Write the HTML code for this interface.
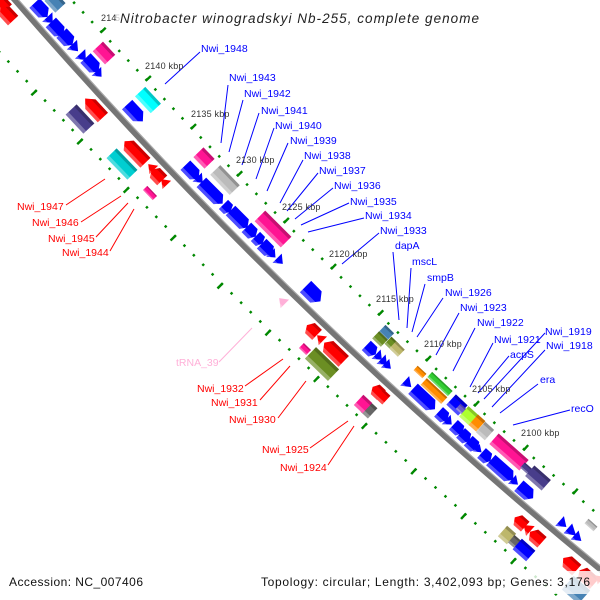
<!DOCTYPE html>
<html><head><meta charset="utf-8"><style>
html,body{margin:0;padding:0;background:#fff}
svg{display:block}
text{font-family:"Liberation Sans",sans-serif}
.b{fill:#00f;font-size:10.5px}
.r{fill:#f00;font-size:10.5px}
.k{fill:#333;font-size:9px;letter-spacing:.2px}
</style></head><body>
<svg width="600" height="600" viewBox="0 0 600 600" xmlns="http://www.w3.org/2000/svg">
<defs>
<g id="x"><rect x="-.5" y="-.5" width="1" height="1" fill="currentColor"/><rect x="-.5" y="-.5" width="1" height=".22" fill="#000" opacity=".22"/><rect x="-.5" y=".25" width="1" height=".25" fill="#fff" opacity=".3"/></g>
<g id="a"><polygon points="-.5,-.5 .3,-.5 .5,0 .3,.5 -.5,.5" fill="currentColor"/><polygon points="-.5,.5 .3,.5 .4,.25 -.5,.25" fill="#fff" opacity=".3"/></g>
<g id="c"><polygon points="-.5,-.5 .2,-.5 .5,0 .2,.5 -.5,.5" fill="currentColor"/><polygon points="-.5,.5 .2,.5 .35,.25 -.5,.25" fill="#fff" opacity=".3"/></g>
<g id="A"><polygon points="-.5,-.5 .3,-.5 .5,0 .3,.5 -.5,.5" fill="currentColor"/><polygon points="-.5,-.5 .3,-.5 .39,-.28 -.5,-.28" fill="#000" opacity=".2"/><polygon points="-.5,.5 .3,.5 .4,.25 -.5,.25" fill="#fff" opacity=".3"/></g>
<g id="C"><polygon points="-.5,-.5 .2,-.5 .5,0 .2,.5 -.5,.5" fill="currentColor"/><polygon points="-.5,-.5 .2,-.5 .33,-.28 -.5,-.28" fill="#000" opacity=".2"/><polygon points="-.5,.5 .2,.5 .35,.25 -.5,.25" fill="#fff" opacity=".3"/></g>
<g id="t"><polygon points="-.5,-.5 .5,0 -.5,.5" fill="currentColor"/><polygon points="-.5,.5 -.5,.25 0,.25" fill="#fff" opacity=".3"/></g>
</defs>

<!-- backbone -->
<path d="M8,-8 Q286,313.6 617,583" fill="none" stroke="#757575" stroke-width="6"/>
<path d="M10,-10 Q288,311.6 619,581" fill="none" stroke="#a8a8a8" stroke-width="1.2"/>

<!-- tick tracks -->
<path d="M56,-16.5 L101,31.5 146,79.5 191,127.5 237,174.5 284,221.5 331,267.5 378,313.5 426,359.5 474,404.5 523,448.5 573,492.5 623,536.5" pathLength="60" fill="none" stroke="#080" stroke-width="2.5" stroke-dasharray=".18 .82" stroke-dashoffset=".09"/>
<path d="M58,-18 L103,30 148,78 193,126 239,173 286,220 333,266 380,312 428,358 476,403 525,447 575,491 625,535" pathLength="60" fill="none" stroke="#080" stroke-width="7" stroke-dasharray=".18 4.82" stroke-dashoffset=".09"/>
<path d="M-10,42 L36,91 82,140 128,188 175,236 222,284 270,331 318,377 366,424 415,469 465,514 515,559 566,603" pathLength="60" fill="none" stroke="#080" stroke-width="2.5" stroke-dasharray=".18 .82" stroke-dashoffset=".09"/>
<path d="M-12,44 L34,93 80,142 126,190 173,238 220,286 268,333 316,379 364,426 413,471 463,516 513,561 564,605" pathLength="60" fill="none" stroke="#080" stroke-width="7" stroke-dasharray=".18 4.82" stroke-dashoffset=".09"/>

<!-- genes top-left -->
<use href="#x" transform="translate(55 2) rotate(47) scale(16 14)" color="#4682b4"/>
<use href="#c" transform="translate(41 10) rotate(47) scale(19 14)" color="#00f"/>
<use href="#t" transform="translate(50 20) rotate(47) scale(8 14)" color="#00f"/>
<use href="#c" transform="translate(57 29) rotate(47) scale(18 14)" color="#00f"/>
<use href="#c" transform="translate(67 39) rotate(47) scale(16 14)" color="#00f"/>
<use href="#t" transform="translate(75 48) rotate(47) scale(9 14)" color="#00f"/>
<use href="#t" transform="translate(83 57) rotate(47) scale(8.5 14)" color="#00f"/>
<use href="#c" transform="translate(92 65) rotate(47) scale(19 14)" color="#00f"/>
<use href="#t" transform="translate(99 74) rotate(47) scale(7.5 13)" color="#00f"/>
<use href="#x" transform="translate(104 53) rotate(47) scale(18 14)" color="#ff1493"/>
<use href="#x" transform="translate(148 100) rotate(47) scale(23 14)" color="#0ff"/>
<use href="#c" transform="translate(135 113) rotate(47) scale(23 14)" color="#00f"/>
<use href="#C" transform="translate(2 4) rotate(47) scale(-14 14)" color="#f00"/>
<use href="#C" transform="translate(7 14) rotate(47) scale(-18 14)" color="#f00"/>
<use href="#C" transform="translate(94 108) rotate(47) scale(-26 14)" color="#f00"/>
<use href="#x" transform="translate(80 119) rotate(47) scale(26 15)" color="#483d8b"/>
<use href="#A" transform="translate(135 152) rotate(46) scale(-30 14)" color="#f00"/>
<use href="#x" transform="translate(122 164) rotate(46) scale(30 14)" color="#00ced1"/>
<use href="#t" transform="translate(151 167) rotate(46) scale(-8 12)" color="#f00"/>
<use href="#C" transform="translate(157 175) rotate(46) scale(-15 14)" color="#f00"/>
<use href="#t" transform="translate(164 182) rotate(46) scale(-8 12)" color="#f00"/>
<use href="#x" transform="translate(150 193) rotate(46) scale(14 6)" color="#ff1493"/>

<!-- middle upper -->
<use href="#c" transform="translate(192 172) rotate(46) scale(19 13.5)" color="#00f"/>
<use href="#t" transform="translate(200 180) rotate(46) scale(8 13)" color="#00f"/>
<use href="#a" transform="translate(212 193) rotate(45) scale(30 13.5)" color="#00f"/>
<use href="#c" transform="translate(227 208) rotate(45) scale(10 13)" color="#00f"/>
<use href="#a" transform="translate(239 219) rotate(45) scale(24 13.5)" color="#00f"/>
<use href="#c" transform="translate(251 232) rotate(45) scale(13 13.5)" color="#00f"/>
<use href="#c" transform="translate(259 240) rotate(45) scale(10 13)" color="#00f"/>
<use href="#c" transform="translate(267 249) rotate(45) scale(15 13.5)" color="#00f"/>
<use href="#t" transform="translate(273 255) rotate(45) scale(7 12)" color="#00f"/>
<use href="#t" transform="translate(280 261) rotate(45) scale(8 13)" color="#00f"/>
<use href="#x" transform="translate(204 158) rotate(46) scale(16 14)" color="#ff1493"/>
<use href="#x" transform="translate(225 180) rotate(46) scale(28 14)" color="#bbb"/>
<use href="#x" transform="translate(273 229) rotate(45) scale(37 15)" color="#ff1493"/>
<use href="#t" transform="translate(282 301) rotate(45) scale(-8 12)" color="#ffb0d8"/>
<use href="#c" transform="translate(313 294) rotate(45) scale(21 16)" color="#00f"/>

<!-- middle lower -->
<use href="#C" transform="translate(312 330) rotate(44) scale(-14 14)" color="#f00"/>
<use href="#t" transform="translate(320 338) rotate(44) scale(-8 12)" color="#f00"/>
<use href="#x" transform="translate(305 349) rotate(44) scale(10 7)" color="#ff1493"/>
<use href="#A" transform="translate(334 352) rotate(44) scale(-27 15)" color="#f00"/>
<use href="#x" transform="translate(322 364) rotate(44) scale(32 16)" color="#6b8e23"/>
<use href="#x" transform="translate(386 333) rotate(44) scale(12 11)" color="#4682b4"/>
<use href="#x" transform="translate(380 339) rotate(44) scale(12 10)" color="#6b8e23"/>
<use href="#x" transform="translate(392 344) rotate(44) scale(11 10)" color="#6b8e23"/>
<use href="#x" transform="translate(397 349) rotate(44) scale(12 10)" color="#bdb76b"/>
<use href="#c" transform="translate(371 350) rotate(44) scale(13 13)" color="#00f"/>
<use href="#t" transform="translate(379 357) rotate(44) scale(8 13)" color="#00f"/>
<use href="#t" transform="translate(384 362) rotate(44) scale(8 13)" color="#00f"/>
<use href="#t" transform="translate(388 366) rotate(44) scale(8 12)" color="#00f"/>
<use href="#t" transform="translate(408 384) rotate(43) scale(9 13)" color="#00f"/>
<use href="#x" transform="translate(420 372) rotate(43) scale(12 6)" color="#ff8c00"/>
<use href="#C" transform="translate(377 391) rotate(43) scale(-12 13)" color="#f00"/>
<use href="#C" transform="translate(382 396) rotate(43) scale(-12 12)" color="#f00"/>
<use href="#x" transform="translate(369 410) rotate(43) scale(10 14)" color="#666"/>
<use href="#x" transform="translate(363 404) rotate(43) scale(12 14)" color="#ff1493"/>

<!-- right -->
<use href="#a" transform="translate(424 399) rotate(43) scale(30 14)" color="#00f"/>
<use href="#x" transform="translate(434 391) rotate(43) scale(28 9)" color="#ff8c00"/>
<use href="#x" transform="translate(440 384) rotate(43) scale(28 7)" color="#32cd32"/>
<use href="#x" transform="translate(457 405) rotate(43) scale(16 14)" color="#00f"/>
<use href="#x" transform="translate(461 409) rotate(43) scale(8 7)" color="#6a5acd"/>
<use href="#c" transform="translate(443 416) rotate(43) scale(12 13)" color="#00f"/>
<use href="#t" transform="translate(449 422) rotate(43) scale(7.5 13)" color="#00f"/>
<use href="#c" transform="translate(458 429) rotate(43) scale(12.5 13)" color="#00f"/>
<use href="#c" transform="translate(465 437) rotate(43) scale(12 13)" color="#00f"/>
<use href="#c" transform="translate(473 445) rotate(43) scale(13 13)" color="#00f"/>
<use href="#t" transform="translate(479 450) rotate(42) scale(7 10)" color="#00f"/>
<use href="#c" transform="translate(486 457) rotate(42) scale(12 13)" color="#00f"/>
<use href="#a" transform="translate(502 470) rotate(41.5) scale(30 14)" color="#00f"/>
<use href="#t" transform="translate(515 482) rotate(41.5) scale(8 12)" color="#00f"/>
<use href="#c" transform="translate(526 492) rotate(41.5) scale(19 14)" color="#00f"/>
<use href="#x" transform="translate(469 416) rotate(42) scale(14 14)" color="#adff2f"/>
<use href="#x" transform="translate(477 423) rotate(42) scale(10 14)" color="#ff8c00"/>
<use href="#x" transform="translate(485 431) rotate(42) scale(12 14)" color="#bbb"/>
<use href="#x" transform="translate(509 452) rotate(41.5) scale(40 14)" color="#ff1493"/>
<use href="#x" transform="translate(527 469) rotate(41.5) scale(12 7)" color="#483d8b"/>
<use href="#x" transform="translate(538 478) rotate(41.5) scale(22 14)" color="#483d8b"/>

<!-- bottom right -->
<use href="#C" transform="translate(520 522) rotate(41.5) scale(-14 13)" color="#f00"/>
<use href="#t" transform="translate(527 528) rotate(41.5) scale(-9 13)" color="#f00"/>
<use href="#C" transform="translate(536 537) rotate(41.5) scale(-16 14)" color="#f00"/>
<use href="#x" transform="translate(507 535) rotate(41.5) scale(12 14)" color="#bdb76b"/>
<use href="#x" transform="translate(515 542) rotate(41.5) scale(10 10)" color="#666"/>
<use href="#x" transform="translate(524 550) rotate(41.5) scale(18 14)" color="#00f"/>
<use href="#t" transform="translate(563 524) rotate(41.5) scale(9 13)" color="#00f"/>
<use href="#t" transform="translate(572 532) rotate(41.5) scale(11 13)" color="#00f"/>
<use href="#t" transform="translate(578 538) rotate(41.5) scale(9 12)" color="#00f"/>
<use href="#x" transform="translate(591 525) rotate(41.5) scale(12 6)" color="#bbb"/>
<use href="#C" transform="translate(570 564) rotate(41.5) scale(-18 14)" color="#f00"/>
<use href="#A" transform="translate(587 577) rotate(41.5) scale(-20 14)" color="#f00"/>
<use href="#x" transform="translate(576 590) rotate(41.5) scale(22 18)" color="#4682b4"/>
<use href="#t" transform="translate(598 578) rotate(41.5) scale(-8 10)" color="#f00"/>

<!-- overlays -->
<rect x="0" y="571" width="600" height="23" fill="#fff" opacity=".8"/>
<rect x="116" y="0" width="370" height="30" fill="#fff" opacity=".85"/>

<!-- leader lines -->
<g stroke="#00f" stroke-width="1" fill="none">
<path d="M165,84L200,52M221,143L228,85M229,152L243,100M242,165L259,113M256,179L274,128M267,191L288,143M280,203L303,160M287,211L318,173M295,219L333,188M301,225L349,203M308,232L364,218M342,264L379,233M399,320L393,252M407,328L411,268M412,332L425,284M417,337L443,298M436,355L459,313M453,371L475,328M470,387L493,343M478,393L509,356M484,399L545,333M492,407L545,350M500,413L538,384M513,425L570,410"/>
</g>
<g stroke="#f00" stroke-width="1" fill="none">
<path d="M66,205L105,179M81,222L121,196M96,237L128,203M110,251L134,209M245,386L283,359M260,400L290,366M278,418L306,381M310,448L348,421M328,465L354,426"/>
</g>
<path d="M219,362L252,328" stroke="#ffb0d8" stroke-width="1" fill="none"/>

<!-- tick labels -->
<text class="k" x="101" y="21">214</text><text x="115" y="21" fill="#ccc" font-size="9">5</text>
<text class="k" x="145" y="69">2140 kbp</text>
<text class="k" x="191" y="117">2135 kbp</text>
<text class="k" x="236" y="163">2130 kbp</text>
<text class="k" x="282" y="210">2125 kbp</text>
<text class="k" x="329" y="257">2120 kbp</text>
<text class="k" x="376" y="302">2115 kbp</text>
<text class="k" x="424" y="347">2110 kbp</text>
<text class="k" x="472" y="392">2105 kbp</text>
<text class="k" x="521" y="436">2100 kbp</text>

<!-- labels -->
<text class="b" x="201" y="52">Nwi_1948</text>
<text class="b" x="229" y="81">Nwi_1943</text>
<text class="b" x="244" y="97">Nwi_1942</text>
<text class="b" x="261" y="114">Nwi_1941</text>
<text class="b" x="275" y="129">Nwi_1940</text>
<text class="b" x="290" y="144">Nwi_1939</text>
<text class="b" x="304" y="159">Nwi_1938</text>
<text class="b" x="319" y="174">Nwi_1937</text>
<text class="b" x="334" y="189">Nwi_1936</text>
<text class="b" x="350" y="205">Nwi_1935</text>
<text class="b" x="365" y="219">Nwi_1934</text>
<text class="b" x="380" y="234">Nwi_1933</text>
<text class="b" x="395" y="249">dapA</text>
<text class="b" x="412" y="265">mscL</text>
<text class="b" x="427" y="281">smpB</text>
<text class="b" x="445" y="296">Nwi_1926</text>
<text class="b" x="460" y="311">Nwi_1923</text>
<text class="b" x="477" y="326">Nwi_1922</text>
<text class="b" x="494" y="343">Nwi_1921</text>
<text class="b" x="545" y="335">Nwi_1919</text>
<text class="b" x="546" y="349">Nwi_1918</text>
<text class="b" x="510" y="358">acpS</text>
<text class="b" x="540" y="383">era</text>
<text class="b" x="571" y="412">recO</text>
<text class="r" x="17" y="210">Nwi_1947</text>
<text class="r" x="32" y="226">Nwi_1946</text>
<text class="r" x="48" y="242">Nwi_1945</text>
<text class="r" x="62" y="256">Nwi_1944</text>
<text x="176" y="366" fill="#ffb0d8" font-size="10.5">tRNA_39</text>
<text class="r" x="197" y="392">Nwi_1932</text>
<text class="r" x="211" y="406">Nwi_1931</text>
<text class="r" x="229" y="423">Nwi_1930</text>
<text class="r" x="262" y="453">Nwi_1925</text>
<text class="r" x="280" y="471">Nwi_1924</text>

<!-- title + legend -->
<text x="120" y="23" font-size="13.5" font-style="italic" fill="#222" textLength="359" lengthAdjust="spacing">Nitrobacter winogradskyi Nb-255, complete genome</text>
<text x="9" y="586" font-size="12" fill="#111" textLength="134" lengthAdjust="spacing">Accession: NC_007406</text>
<text x="261" y="586" font-size="12" fill="#111" textLength="329" lengthAdjust="spacing">Topology: circular; Length: 3,402,093 bp; Genes: 3,176</text>
</svg>
</body></html>
